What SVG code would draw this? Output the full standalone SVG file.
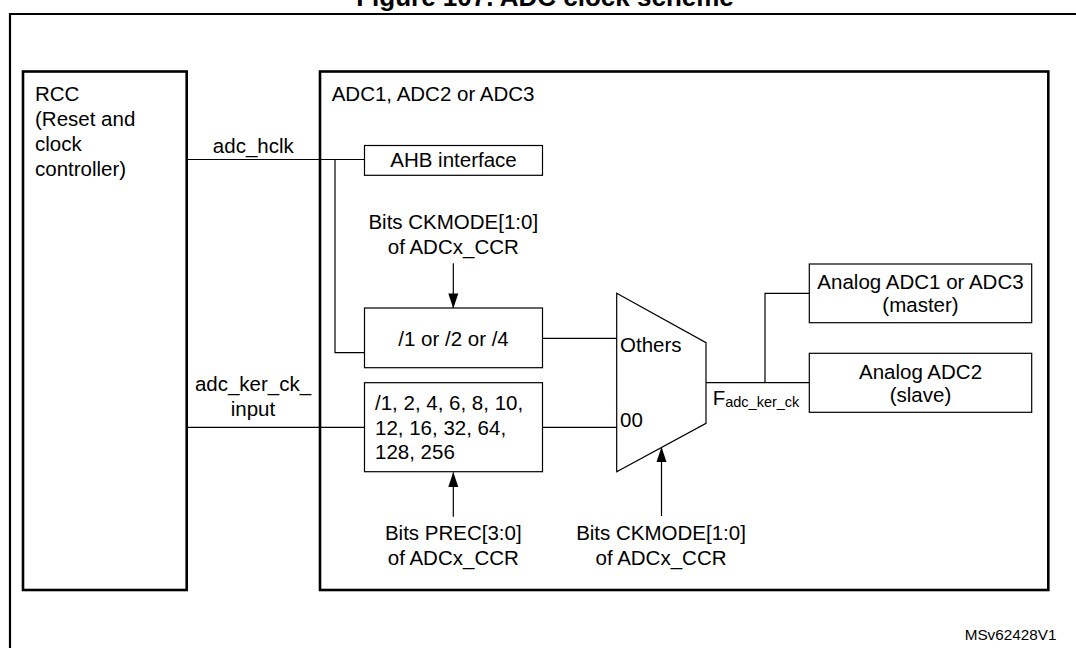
<svg xmlns="http://www.w3.org/2000/svg" width="1076" height="648" viewBox="0 0 1076 648">
<style>
text{font-family:"Liberation Sans",Arial,sans-serif;font-size:20.5px;fill:#000}
.mid{text-anchor:middle}
.thick{fill:#fff;stroke:#000;stroke-width:2.6}
.box{fill:#fff;stroke:#000;stroke-width:1.2}
.wire{fill:none;stroke:#000;stroke-width:1.2}
.title{font-weight:bold;font-size:26px}
.sub{font-size:14.5px}
.small{font-size:15.3px;text-anchor:end}
</style>
<defs>
<marker id="arr" markerUnits="userSpaceOnUse" markerWidth="12" markerHeight="16" viewBox="0 0 12 16" refX="6" refY="0.5" orient="0">
<path d="M6 0 L11 15 L1 15 Z" fill="#000"/>
</marker>
<marker id="arrdown" markerUnits="userSpaceOnUse" markerWidth="12" markerHeight="16" viewBox="0 0 12 16" refX="6" refY="15.5" orient="0">
<path d="M6 16 L11 1 L1 1 Z" fill="#000"/>
</marker>
</defs>
<rect width="1076" height="648" fill="#fff"/>
<text class="title mid" x="545" y="6">Figure 107. ADC clock scheme</text>
<path d="M10 660 V14 H1090" fill="none" stroke="#000" stroke-width="2.2"/>

<g id="rcc">
<rect class="thick" x="23" y="71.5" width="163.7" height="518.5"/>
<text x="35" y="101">RCC</text>
<text x="35" y="126">(Reset and</text>
<text x="35" y="151">clock</text>
<text x="35" y="176">controller)</text>
</g>

<g id="adc">
<rect class="thick" x="320" y="71.5" width="728.3" height="518.5"/>
<text x="331.7" y="101">ADC1, ADC2 or ADC3</text>
</g>

<g id="connectors">
<path class="wire" d="M186.7 159.5 H364.5"/>
<path class="wire" d="M335 159.5 V352.7 H364.5"/>
<path class="wire" d="M542.5 338.3 H616.7"/>
<path class="wire" d="M186.7 427.3 H364.5"/>
<path class="wire" d="M542.5 427.3 H616.7"/>
<path class="wire" d="M706 382.7 H809.3"/>
<path class="wire" d="M765 382.7 V293.3 H809.3"/>
<path class="wire" d="M453.3 263.3 V308" marker-end="url(#arrdown)"/>
<path class="wire" d="M453.3 516.7 V472.5" marker-end="url(#arr)"/>
<path class="wire" d="M661.5 516 V447.5" marker-end="url(#arr)"/>
<text class="mid" x="253.3" y="152.5">adc_hclk</text>
<text class="mid" x="253" y="391">adc_ker_ck_</text>
<text class="mid" x="253" y="416">input</text>
<text x="712.7" y="404.5">F<tspan class="sub" dy="2.5">adc_ker_ck</tspan></text>
</g>

<g id="ahb">
<rect class="box" x="364.5" y="145.5" width="178" height="29.8"/>
<text class="mid" x="453.5" y="167">AHB interface</text>
</g>

<g id="ckmode-top-label">
<text class="mid" x="453.3" y="228.5">Bits CKMODE[1:0]</text>
<text class="mid" x="453.3" y="254">of ADCx_CCR</text>
</g>

<g id="div-hclk">
<rect class="box" x="364.5" y="308" width="178" height="59.7"/>
<text class="mid" x="453.5" y="345.5">/1 or /2 or /4</text>
</g>

<g id="prescaler">
<rect class="box" x="364.5" y="382.7" width="178" height="89"/>
<text x="375" y="409.5">/1, 2, 4, 6, 8, 10,</text>
<text x="375" y="434.5">12, 16, 32, 64,</text>
<text x="375" y="459">128, 256</text>
</g>

<g id="prec-label">
<text class="mid" x="453.3" y="540">Bits PREC[3:0]</text>
<text class="mid" x="453.3" y="565">of ADCx_CCR</text>
</g>

<g id="mux">
<polygon class="box" points="616.7,293.3 706,342.7 706,423.3 616.7,471.7"/>
<text x="620" y="352">Others</text>
<text x="620" y="427">00</text>
</g>

<g id="ckmode-bottom-label">
<text class="mid" x="661" y="540">Bits CKMODE[1:0]</text>
<text class="mid" x="661" y="565">of ADCx_CCR</text>
</g>

<g id="analog-master">
<rect class="box" x="809.3" y="264" width="222.4" height="58.7"/>
<text class="mid" x="920.5" y="288.5">Analog ADC1 or ADC3</text>
<text class="mid" x="920.5" y="312">(master)</text>
</g>

<g id="analog-slave">
<rect class="box" x="809.3" y="353.3" width="222.4" height="59"/>
<text class="mid" x="920.5" y="378.5">Analog ADC2</text>
<text class="mid" x="920.5" y="402">(slave)</text>
</g>

<text class="small" x="1056.5" y="639.5">MSv62428V1</text>
</svg>
